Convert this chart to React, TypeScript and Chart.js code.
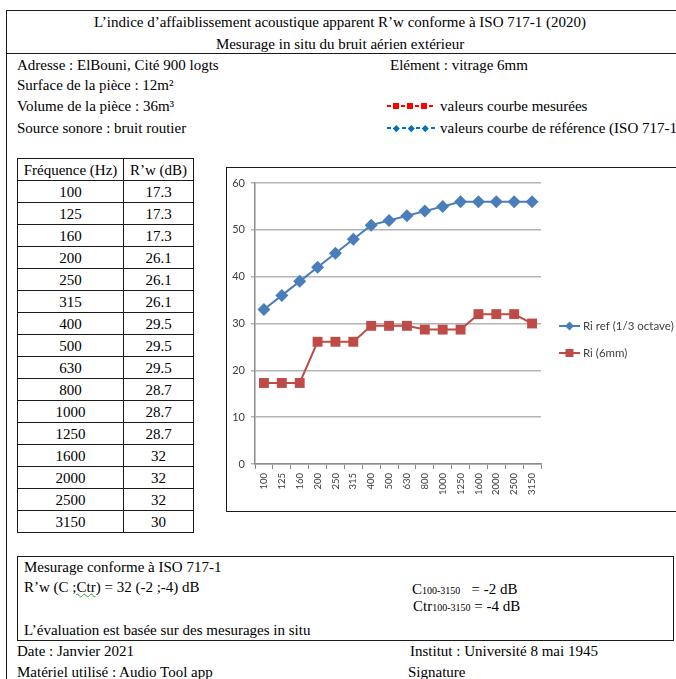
import React, { useEffect, useRef } from "react";
import { Chart, registerables } from "chart.js";

Chart.register(...registerables);

const frequencies = ["100", "125", "160", "200", "250", "315", "400", "500", "630", "800", "1000", "1250", "1600", "2000", "2500", "3150"];
const refValues = [33, 36, 39, 42, 45, 48, 51, 52, 53, 54, 55, 56, 56, 56, 56, 56];
const measuredValues = [17.3, 17.3, 17.3, 26.1, 26.1, 26.1, 29.5, 29.5, 29.5, 28.7, 28.7, 28.7, 32, 32, 32, 30];
const seriesLabels = ["Ri ref (1/3 octave)", "Ri (6mm)"];
const seriesColors = ["#4a7ebb", "#be4b48"];
const yMin = 0;
const yMax = 60;
const yStep = 10;

const SERIF = '"Liberation Serif", "Times New Roman", serif';
const SANS = 'Lato, "Liberation Sans", sans-serif';

const legendPlugin = {
  id: "customLegend",
  afterDraw(chart: any) {
    const ctx = chart.ctx;
    const x0 = chart.chartArea.right + 18;
    const ys = [158, 185];
    ctx.save();
    chart.data.datasets.forEach((ds: any, i: number) => {
      const y = ys[i];
      ctx.strokeStyle = ds.borderColor;
      ctx.lineWidth = 2;
      ctx.beginPath();
      ctx.moveTo(x0, y);
      ctx.lineTo(x0 + 21, y);
      ctx.stroke();
      ctx.fillStyle = ds.borderColor;
      const cx = x0 + 10.5;
      if (i === 0) {
        ctx.beginPath();
        ctx.moveTo(cx, y - 4.5);
        ctx.lineTo(cx + 4.5, y);
        ctx.lineTo(cx, y + 4.5);
        ctx.lineTo(cx - 4.5, y);
        ctx.closePath();
        ctx.fill();
      } else {
        ctx.fillRect(cx - 4, y - 4, 8, 8);
      }
      ctx.fillStyle = "#404040";
      ctx.font = `11.5px ${SANS}`;
      ctx.textBaseline = "middle";
      ctx.textAlign = "left";
      ctx.fillText(ds.label, x0 + 24, y + 0.5);
    });
    ctx.restore();
  },
};

function ChartBox() {
  const ref = useRef<HTMLCanvasElement | null>(null);
  useEffect(() => {
    if (!ref.current) return;
    const chart = new Chart(ref.current, {
      type: "line",
      data: {
        labels: frequencies,
        datasets: [
          {
            label: seriesLabels[0],
            data: refValues,
            borderColor: seriesColors[0],
            backgroundColor: seriesColors[0],
            pointStyle: "rectRot",
            pointRadius: 6.5,
            pointBorderWidth: 0,
            borderWidth: 2,
            tension: 0,
          },
          {
            label: seriesLabels[1],
            data: measuredValues,
            borderColor: seriesColors[1],
            backgroundColor: seriesColors[1],
            pointStyle: "rect",
            pointRadius: 7,
            pointBorderWidth: 0,
            borderWidth: 2,
            tension: 0,
          },
        ],
      },
      options: {
        animation: false,
        responsive: false,
        maintainAspectRatio: false,
        layout: { padding: { left: 0, top: 15, right: 135, bottom: 0 } },
        plugins: { legend: { display: false }, tooltip: { enabled: false } },
        scales: {
          x: {
            offset: true,
            grid: { offset: true, drawOnChartArea: false, drawTicks: true, tickLength: 5, color: "#8c8c8c" },
            border: { color: "#8c8c8c", width: 1.5 },
            ticks: { minRotation: 90, maxRotation: 90, autoSkip: false, padding: 4, color: "#404040", font: { size: 9.5, family: SANS } },
            afterFit: (s: any) => {
              s.height = 48;
            },
          },
          y: {
            min: yMin,
            max: yMax,
            ticks: { stepSize: yStep, padding: 6, color: "#404040", font: { size: 11, family: SANS } },
            grid: { color: "#b4b4b4", lineWidth: 1.5, tickLength: 4 },
            border: { color: "#8c8c8c", width: 1.5 },
            afterFit: (s: any) => {
              s.width = 27;
            },
          },
        },
      },
      plugins: [legendPlugin],
    } as any);
    return () => chart.destroy();
  }, []);
  return <canvas ref={ref} width={448} height={344} style={{ width: 448, height: 344, display: "block" }} />;
}

function T({ x, y, children, size = 15, w, align, style }: any) {
  const lh = 20;
  return (
    <div
      style={{
        position: "absolute",
        left: x,
        top: y - lh / 2,
        lineHeight: `${lh}px`,
        fontSize: size,
        fontFamily: SERIF,
        whiteSpace: "nowrap",
        width: w,
        textAlign: align,
        color: "#000",
        ...style,
      }}
    >
      {children}
    </div>
  );
}

function LegendSymbol({ x, y, color, diamond }: any) {
  const dash = <span style={{ display: "inline-block", width: 4, height: 1.5, background: color, margin: "0 2px", verticalAlign: "middle" }} />;
  const mark = (
    <span
      style={{
        display: "inline-block",
        width: diamond ? 4.5 : 6,
        height: diamond ? 4.5 : 6,
        background: color,
        transform: diamond ? "rotate(45deg)" : undefined,
        verticalAlign: "middle",
        margin: diamond ? "0 1px" : 0,
      }}
    />
  );
  return (
    <div style={{ position: "absolute", left: x, top: y - 6, height: 12, lineHeight: "12px", whiteSpace: "nowrap", fontSize: 0 }}>
      {dash}
      {mark}
      {dash}
      {mark}
      {dash}
      {mark}
      {dash}
    </div>
  );
}

export default function App() {
  const line = "1.5px solid #1a1a1a";
  return (
    <div style={{ position: "absolute", left: 0, top: 0, width: 676, height: 679, overflow: "hidden", background: "#fff", fontFamily: SERIF }}>
      {/* outer frame */}
      <div style={{ position: "absolute", left: 6, top: 10, width: 700, height: 720, borderLeft: line, borderTop: line }} />
      <div style={{ position: "absolute", left: 6, top: 53, width: 700, borderTop: line }} />

      <T x={0} y={22} w={680} align="center">L’indice d’affaiblissement acoustique apparent R’w conforme à ISO 717-1 (2020)</T>
      <T x={0} y={44} w={680} align="center">Mesurage in situ du bruit aérien extérieur</T>

      <T x={17} y={65}>Adresse : ElBouni, Cité 900 logts</T>
      <T x={17} y={85}>Surface de la pièce : 12m²</T>
      <T x={17} y={106}>Volume de la pièce : 36m³</T>
      <T x={17} y={128}>Source sonore : bruit routier</T>

      <T x={390} y={65}>Elément : vitrage 6mm</T>
      <LegendSymbol x={385} y={106} color="#ff0000" />
      <T x={440} y={106}>valeurs courbe mesurées</T>
      <LegendSymbol x={385} y={128} color="#0070c0" diamond />
      <T x={440} y={128}>valeurs courbe de référence (ISO 717-1)</T>

      {/* table */}
      <table
        style={{
          position: "absolute",
          left: 17,
          top: 158,
          borderCollapse: "collapse",
          fontFamily: SERIF,
          fontSize: 15,
          width: 177,
        }}
      >
        <tbody>
          <tr style={{ height: 22 }}>
            <td style={{ border: line, textAlign: "center", padding: 0, width: 105, lineHeight: "20px" }}>Fréquence (Hz)</td>
            <td style={{ border: line, textAlign: "center", padding: 0, lineHeight: "20px" }}>R’w (dB)</td>
          </tr>
          {frequencies.map((f, i) => (
            <tr key={f} style={{ height: 22 }}>
              <td style={{ border: line, textAlign: "center", padding: 0, lineHeight: "20px" }}>{f}</td>
              <td style={{ border: line, textAlign: "center", padding: 0, lineHeight: "20px" }}>{String(measuredValues[i])}</td>
            </tr>
          ))}
        </tbody>
      </table>

      {/* chart box */}
      <div style={{ position: "absolute", left: 226, top: 167, width: 460, height: 345, border: line, boxSizing: "border-box" }} />
      <div style={{ position: "absolute", left: 228, top: 168 }}>
        <ChartBox />
      </div>

      {/* bottom box */}
      <div style={{ position: "absolute", left: 17, top: 556, width: 657, height: 85, border: line, boxSizing: "border-box" }} />
      <T x={24} y={567}>Mesurage conforme à ISO 717-1</T>
      <T x={24} y={587}>
        R’w (C <span style={{ textDecoration: "underline wavy #3a9a3a", textDecorationThickness: 1 }}>;Ctr</span>) = 32 (-2 ;-4) dB
      </T>
      <T x={24} y={630}>L’évaluation est basée sur des mesurages in situ</T>
      <T x={412} y={589}>
        C<span style={{ fontSize: 10 }}>100-3150</span>&nbsp;&nbsp; = -2 dB
      </T>
      <T x={413} y={606}>
        Ctr<span style={{ fontSize: 10 }}>100-3150</span> = -4 dB
      </T>

      <T x={17} y={651}>Date : Janvier 2021</T>
      <T x={17} y={672}>Matériel utilisé : Audio Tool app</T>
      <T x={410} y={651}>Institut : Université 8 mai 1945</T>
      <T x={408} y={672}>Signature</T>
    </div>
  );
}
